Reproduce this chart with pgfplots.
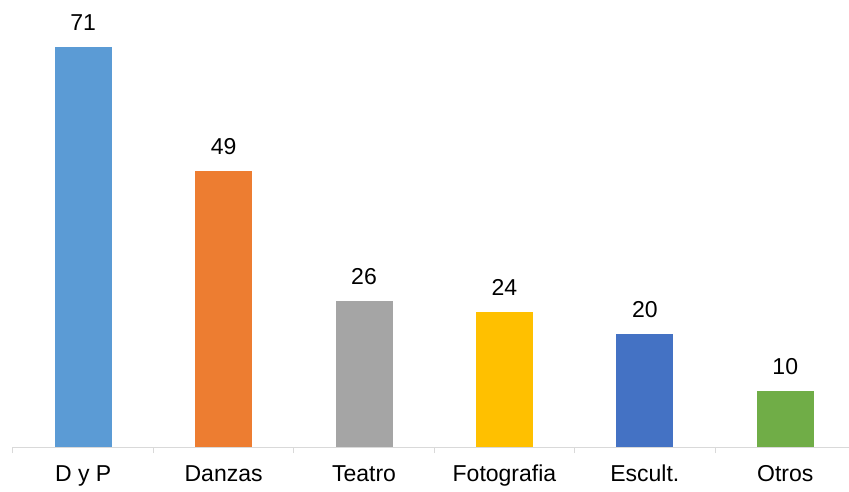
\documentclass[border=0pt]{standalone}
\usepackage{pgfplots}
\pgfplotsset{compat=1.18}
\usepackage{fontspec}
\setmainfont{Liberation Sans}
\definecolor{c1}{HTML}{5B9BD5}
\definecolor{c2}{HTML}{ED7D31}
\definecolor{c3}{HTML}{A5A5A5}
\definecolor{c4}{HTML}{FFC000}
\definecolor{c5}{HTML}{4472C4}
\definecolor{c6}{HTML}{70AD47}
\definecolor{axgray}{HTML}{D9D9D9}
\begin{document}
\begin{tikzpicture}
\path[use as bounding box] (0,0) rectangle (849pt,491pt);
\begin{axis}[
  at={(13pt,44pt)}, anchor=south west,
  scale only axis,
  width=836pt, height=445pt,
  xmin=-0.5, xmax=5.454,
  ymin=0, ymax=79,
  axis y line=none,
  axis x line*=bottom,
  x axis line style={draw=axgray, line width=1pt, -},
  xtick={0,1,2,3,4,5},
  xticklabels={D y P, Danzas, Teatro, Fotografia, Escult., Otros},
  major tick length=0pt,
  x tick style={draw=axgray, line width=1pt},
  extra x ticks={-0.5,0.5,1.5,2.5,3.5,4.5},
  extra x tick labels={},
  extra x tick style={major tick length=6pt, tick align=outside},
  xticklabel style={font=\fontsize{23}{27}\selectfont, anchor=base, yshift=-34.5pt, inner sep=0pt, text=black},
  ybar, bar width=57pt, bar shift=0pt,
  /pgf/number format/assume math mode=true,
  nodes near coords,
  nodes near coords style={font=\fontsize{23}{27}\selectfont, anchor=base, yshift=16.5pt, inner sep=0pt, text=black},
  clip=false,
]
\addplot[fill=c1, draw=none] coordinates {(0,71)};
\addplot[fill=c2, draw=none] coordinates {(1,49)};
\addplot[fill=c3, draw=none] coordinates {(2,26)};
\addplot[fill=c4, draw=none] coordinates {(3,24)};
\addplot[fill=c5, draw=none] coordinates {(4,20)};
\addplot[fill=c6, draw=none] coordinates {(5,10)};
\end{axis}
\end{tikzpicture}
\end{document}
